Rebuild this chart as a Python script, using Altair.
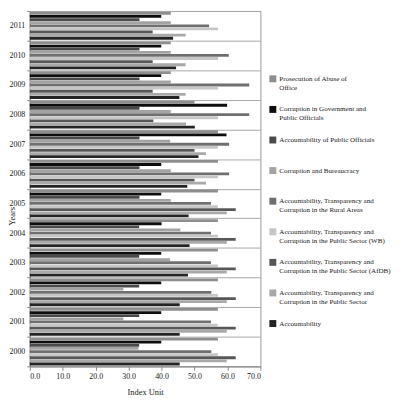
import altair as alt
import pandas as pd

years = ["2000", "2001", "2002", "2003", "2004", "2005",
         "2006", "2007", "2008", "2009", "2010", "2011"]

series = [
    "Prosecution of Abuse of Office",
    "Corruption in Government and Public Officials",
    "Accountability of Public Officials",
    "Corruption and Bureaucracy",
    "Accountability, Transparency and Corruption in the Rural Areas",
    "Accountability, Transparency and Corruption in the Public Sector (WB)",
    "Accountability, Transparency and Corruption in the Public Sector (AfDB)",
    "Accountability, Transparency and Corruption in the Public Sector",
    "Accountability",
]

legend_lines = [
    ["Prosecution of Abuse of", "Office"],
    ["Corruption in Government and", "Public Officials"],
    ["Accountability of Public Officials", ""],
    ["Corruption and Bureaucracy", ""],
    ["Accountability, Transparency and", "Corruption in the Rural Areas"],
    ["Accountability, Transparency and", "Corruption in the Public Sector (WB)"],
    ["Accountability, Transparency and", "Corruption in the Public Sector (AfDB)"],
    ["Accountability, Transparency and", "Corruption in the Public Sector"],
    ["Accountability", ""],
]

colors = ["#8e8e8e", "#0d0d0d", "#4a4a4a", "#a3a3a3", "#6f6f6f",
          "#c6c6c6", "#575757", "#a9a9a9", "#242424"]

# values for 2000 ... 2011
prosecution = [57.1, 57.1, 57.1, 57.1, 57.1, 57.1, 57.1, 57.1, 50.0, 42.8, 42.8, 42.8]
corruption_gov = [39.9, 39.9, 39.9, 39.9, 40.0, 39.9, 39.9, 59.7, 59.9, 39.9, 39.9, 39.9]
acc_officials = [33.2, 33.2, 33.2, 33.2, 33.2, 33.3, 33.3, 33.3, 33.3, 33.3, 33.3, 33.3]
corr_bureau = [33.0, 28.4, 28.4, 42.6, 45.7, 42.8, 42.8, 42.6, 42.8, 42.8, 42.8, 42.8]
rural = [55.1, 55.0, 55.1, 55.0, 55.0, 55.0, 60.5, 60.5, 66.6, 66.6, 60.4, 54.4]
wb = [57.1, 57.0, 57.1, 57.1, 57.1, 57.1, 57.1, 57.1, 57.1, 57.1, 57.1, 57.1]
afdb = [62.5, 62.5, 62.5, 62.5, 62.5, 62.5, 50.0, 50.0, 37.5, 37.3, 37.3, 37.3]
public_sector = [59.8, 59.8, 59.8, 59.8, 59.8, 59.8, 53.5, 53.5, 47.4, 47.3, 47.3, 47.3]
accountability = [45.5, 45.5, 45.5, 48.0, 48.5, 48.2, 47.8, 51.2, 50.1, 45.4, 44.4, 43.5]

all_values = [prosecution, corruption_gov, acc_officials, corr_bureau, rural,
              wb, afdb, public_sector, accountability]

rows = []
for s, vals in zip(series, all_values):
    for y, v in zip(years, vals):
        rows.append({"Year": y, "Series": s, "Value": v})
df = pd.DataFrame(rows)

def js_str(t):
    return "'" + t.replace("'", "\\'") + "'"

names_js = "[" + ",".join(js_str(s) for s in series) + "]"
lines_js = "[" + ",".join("[" + ",".join(js_str(l) for l in ls) + "]" for ls in legend_lines) + "]"
label_expr = lines_js + "[indexof(" + names_js + ", datum.label)]"

FONT = "Liberation Serif"

chart = alt.Chart(df).mark_bar().encode(
    y=alt.Y("Year:N", sort=years[::-1],
            scale=alt.Scale(paddingInner=0, paddingOuter=0),
            axis=alt.Axis(title="Years", titleX=-13, titleY=207,
                          tickBand="extent", grid=True, gridColor="#a8a8a8",
                          tickSize=3, labelPadding=2, labelFontSize=8,
                          titleFontSize=8.5, titleFontWeight="normal")),
    yOffset=alt.YOffset("Series:N", sort=series,
                        scale=alt.Scale(paddingInner=0.1, paddingOuter=0.3)),
    x=alt.X("Value:Q", scale=alt.Scale(domain=[0, 70], nice=False),
            axis=alt.Axis(title="Index Unit", values=[0, 10, 20, 30, 40, 50, 60, 70],
                          format=".1f", grid=False, tickSize=4, labelPadding=2,
                          labelFontSize=8, titleFontSize=8.5, titleFontWeight="normal",
                          titlePadding=7)),
    color=alt.Color("Series:N",
                    scale=alt.Scale(domain=series, range=colors),
                    legend=alt.Legend(title=None, orient="none", legendX=242, legendY=65,
                                      symbolType="square", symbolSize=49,
                                      symbolStrokeWidth=0, labelOffset=3,
                                      labelFontSize=7.1, labelLimit=220,
                                      rowPadding=13.9, padding=0,
                                      labelExpr=label_expr)),
).properties(
    width=233, height=359,
    autosize=alt.AutoSizeParams(type="none"),
    padding={"left": 22, "top": 1, "right": 139, "bottom": 32},
).configure_view(
    stroke="#9a9a9a"
).configure_axis(
    labelFont=FONT, titleFont=FONT, labelColor="#1a1a1a", titleColor="#1a1a1a",
    domainColor="#8a8a8a", tickColor="#8a8a8a"
).configure_legend(
    labelFont=FONT, labelColor="#1a1a1a"
)

chart.save("out.html", embed_options={"renderer": "svg", "actions": False})
